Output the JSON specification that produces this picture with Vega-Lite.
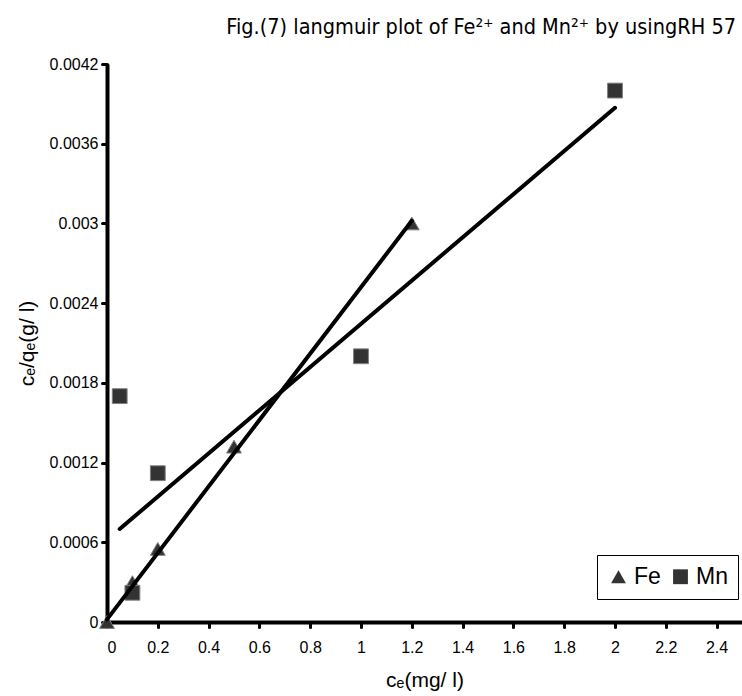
{
  "$schema": "https://vega.github.io/schema/vega-lite/v6.json",
  "autosize": {"type": "none"},
  "padding": {"left": 107, "top": 64, "right": 0, "bottom": 74},
  "width": 635,
  "height": 558,
  "background": "white",
  "title": {
    "text": "Fig.(7) langmuir plot of Fe²⁺ and Mn²⁺ by usingRH 57",
    "anchor": "end",
    "dx": -6,
    "offset": 18,
    "font": "DejaVu Sans Condensed",
    "fontSize": 21.5,
    "fontWeight": "normal",
    "color": "black"
  },
  "config": {
    "view": {"stroke": null},
    "font": "Liberation Sans",
    "axis": {
      "grid": false,
      "domainColor": "black",
      "domainWidth": 4,
      "tickColor": "black",
      "tickWidth": 3,
      "tickSize": 5,
      "tickCap": "round",
      "labelColor": "black",
      "labelFont": "Liberation Sans",
      "labelFontSize": 16,
      "titleColor": "black",
      "titleFont": "Liberation Sans",
      "titleFontSize": 21,
      "titleFontWeight": "normal"
    }
  },
  "datasets": {
    "pts": [
      {"ce": 0, "y": 0, "metal": "Fe"},
      {"ce": 0.1, "y": 0.0003, "metal": "Fe"},
      {"ce": 0.2, "y": 0.00055, "metal": "Fe"},
      {"ce": 0.5, "y": 0.00132, "metal": "Fe"},
      {"ce": 1.2, "y": 0.003, "metal": "Fe"},
      {"ce": 0.05, "y": 0.0017, "metal": "Mn"},
      {"ce": 0.1, "y": 0.00022, "metal": "Mn"},
      {"ce": 0.2, "y": 0.00112, "metal": "Mn"},
      {"ce": 1, "y": 0.002, "metal": "Mn"},
      {"ce": 2, "y": 0.004, "metal": "Mn"}
    ],
    "fits": [
      {"ce": 0, "y": 0.00002, "metal": "Fe"},
      {"ce": 1.2, "y": 0.00302, "metal": "Fe"},
      {"ce": 0.05, "y": 0.0007, "metal": "Mn"},
      {"ce": 2, "y": 0.00387, "metal": "Mn"}
    ]
  },
  "layer": [
    {
      "data": {"name": "pts"},
      "mark": {"type": "point", "filled": true, "opacity": 1, "size": 220, "fill": "#333333", "stroke": "#808080", "strokeWidth": 1},
      "encoding": {
        "x": {
          "field": "ce", "type": "quantitative",
          "scale": {"domain": [0, 2.5], "nice": false, "zero": true},
          "axis": {
            "title": "cₑ(mg/ l)",
            "values": [0, 0.2, 0.4, 0.6, 0.8, 1, 1.2, 1.4, 1.6, 1.8, 2, 2.2, 2.4],
            "format": "~g",
            "labelPadding": 12,
            "titlePadding": 14
          }
        },
        "y": {
          "field": "y", "type": "quantitative",
          "scale": {"domain": [0, 0.0042], "nice": false},
          "axis": {
            "title": "cₑ/qₑ(g/ l)",
            "values": [0, 0.0006, 0.0012, 0.0018, 0.0024, 0.003, 0.0036, 0.0042],
            "format": "~g",
            "labelPadding": 4,
            "titlePadding": 12
          }
        },
        "shape": {
          "field": "metal", "type": "nominal",
          "scale": {"domain": ["Fe", "Mn"], "range": ["triangle-up", "square"]},
          "legend": {
            "title": null,
            "orient": "none",
            "legendX": 490,
            "legendY": 491,
            "direction": "horizontal",
            "labelFontSize": 23,
            "labelColor": "black",
            "labelFont": "Liberation Sans",
            "symbolSize": 220,
            "symbolFillColor": "#333333",
            "symbolStrokeColor": "#333333",
            "symbolType": "square",
            "columnPadding": 8,
            "labelOffset": 4,
            "padding": 10,
            "strokeColor": "black",
            "fillColor": "white"
          }
        }
      }
    },
    {
      "data": {"name": "fits"},
      "mark": {"type": "line", "color": "black", "strokeWidth": 4, "strokeCap": "round"},
      "encoding": {
        "x": {"field": "ce", "type": "quantitative"},
        "y": {"field": "y", "type": "quantitative"},
        "detail": {"field": "metal", "type": "nominal"}
      }
    }
  ]
}
